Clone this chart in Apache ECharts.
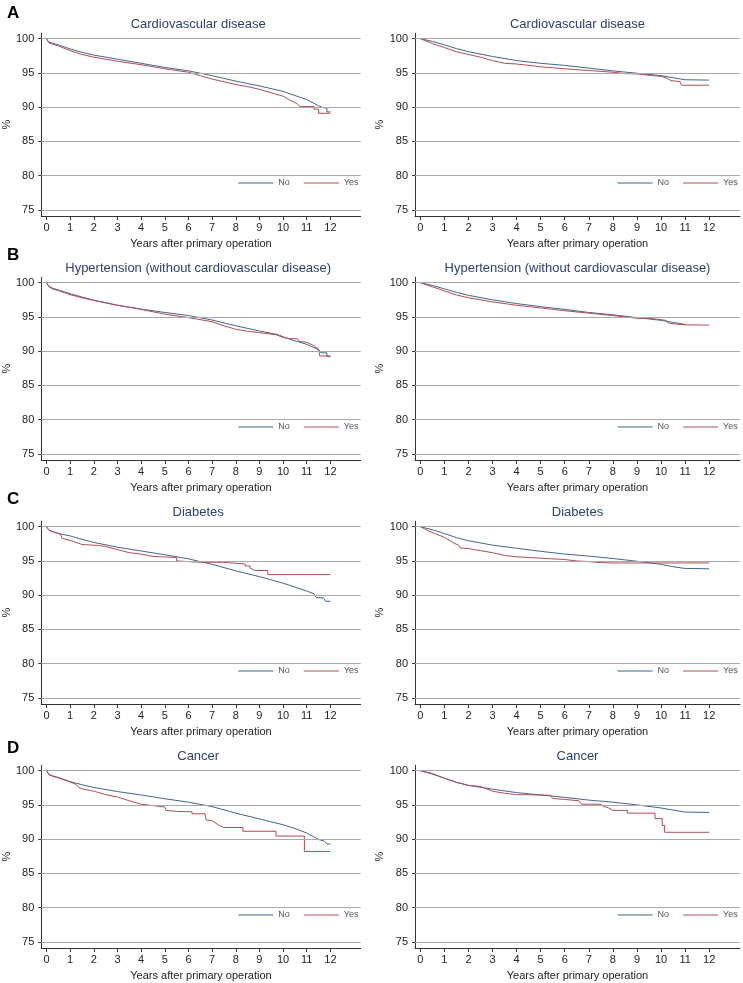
<!DOCTYPE html>
<html><head><meta charset="utf-8">
<script src="https://cdn.jsdelivr.net/npm/echarts@6/dist/echarts.min.js"></script>
<style>html,body{margin:0;padding:0;background:#fff}#c{width:743px;height:983px}</style>
</head><body><div id="c"></div><script>
// ---- labels / ticks ----
const panelLetters = ['A', 'B', 'C', 'D'];
const panelTitles = ['Cardiovascular disease', 'Hypertension (without cardiovascular disease)', 'Diabetes', 'Cancer'];
const groupNames = ['No', 'Yes'];
const xTicks = [0, 1, 2, 3, 4, 5, 6, 7, 8, 9, 10, 11, 12];
const yTicks = [75, 80, 85, 90, 95, 100];
const xAxisTitle = 'Years after primary operation';
const yAxisTitle = '%';

// ---- series: [years, % event-free] ----
// A: Cardiovascular disease
const cvdLeftNo = [[0,100],[0.1,99.5],[0.25,99.35],[0.5,99.1],[1,98.5],[1.5,98.0],[2,97.6],[3,97.0],[4,96.4],[5,95.8],[6,95.3],[7,94.6],[8,93.8],[9,93.1],[10,92.3],[10.5,91.7],[11,91.1],[11.5,90.2],[11.7,89.9],[11.85,89.9],[11.85,89.3],[12,89.3]];
const cvdLeftYes = [[0,100],[0.1,99.4],[0.25,99.2],[0.5,98.95],[1,98.25],[1.5,97.7],[2,97.3],[3,96.7],[4,96.2],[5,95.6],[6,95.1],[6.5,94.6],[7,94.1],[7.5,93.7],[8,93.3],[8.5,93.0],[9,92.6],[9.5,92.1],[10,91.6],[10.3,91.0],[10.6,90.5],[10.7,90.1],[11.3,90.1],[11.3,89.7],[11.5,89.7],[11.5,89.1],[12,89.1]];
const cvdRightNo = [[0,100],[0.5,99.6],[1,99.1],[1.5,98.55],[2,98.1],[3,97.4],[4,96.8],[5,96.4],[6,96.1],[7,95.7],[8,95.3],[9,94.95],[10,94.6],[10.5,94.3],[11,94.0],[12,93.95]];
const cvdRightYes = [[0,100],[0.5,99.3],[1,98.7],[1.5,98.1],[2,97.7],[2.5,97.3],[3,96.8],[3.5,96.4],[4,96.3],[5,95.9],[6,95.6],[7,95.35],[8,95.1],[8.5,94.9],[9,94.85],[9.5,94.65],[10,94.5],[10.2,94.3],[10.4,93.9],[10.8,93.7],[10.85,93.2],[12,93.2]];
// B: Hypertension
const htnLeftNo = [[0,100],[0.1,99.5],[0.25,99.2],[0.5,98.95],[1,98.4],[1.5,97.9],[2,97.45],[3,96.7],[4,96.15],[5,95.65],[6,95.2],[7,94.55],[8,93.7],[9,92.95],[9.8,92.4],[10,92.1],[10.5,91.5],[11,91.0],[11.5,90.2],[11.6,89.75],[11.85,89.75],[11.85,89.2],[12,89.2]];
const htnLeftYes = [[0,100],[0.1,99.4],[0.25,99.1],[0.5,98.85],[1,98.25],[1.5,97.8],[2,97.4],[3,96.7],[4,96.1],[5,95.4],[6,94.9],[7,94.3],[7.5,93.7],[8,93.2],[8.5,92.9],[9,92.7],[9.7,92.4],[10,92.0],[10.2,91.85],[10.6,91.8],[10.7,91.4],[11,91.3],[11.3,90.8],[11.5,90.3],[11.55,89.3],[12,89.3]];
const htnRightNo = [[0,100],[0.5,99.6],[1,99.1],[1.5,98.6],[2,98.15],[3,97.5],[4,96.95],[5,96.5],[6,96.1],[7,95.65],[8,95.3],[9,94.9],[10,94.5],[10.5,94.2],[11,93.9]];
const htnRightYes = [[0,100],[0.5,99.4],[1,98.8],[1.5,98.2],[2,97.8],[3,97.2],[4,96.7],[5,96.3],[6,95.9],[7,95.55],[8,95.2],[8.5,95.0],[9,94.8],[9.5,94.8],[10,94.6],[10.2,94.5],[10.3,94.1],[10.5,94.0],[11,93.85],[12,93.8]];
// C: Diabetes
const dmLeftNo = [[0,100],[0.1,99.5],[0.25,99.3],[0.5,99.0],[1,98.65],[1.5,98.15],[2,97.7],[3,97.0],[4,96.45],[5,95.9],[6,95.3],[7,94.5],[8,93.55],[9,92.7],[10,91.75],[11,90.6],[11.3,90.2],[11.4,89.65],[11.7,89.6],[11.8,89.1],[12,89.1]];
const dmLeftYes = [[0,100],[0.1,99.5],[0.3,99.2],[0.6,98.9],[0.65,98.3],[1,98.0],[1.5,97.4],[2.2,97.25],[2.5,97.1],[3,96.65],[3.5,96.2],[4,96.0],[4.5,95.65],[5.5,95.5],[5.5,95.0],[6,94.9],[6.5,94.8],[7.45,94.8],[7.45,94.55],[8.4,94.55],[8.4,94.25],[8.6,94.25],[8.6,93.95],[8.8,93.6],[9.35,93.6],[9.35,93.0],[12,93.0]];
const dmRightNo = [[0,100],[0.5,99.55],[1,99.0],[1.5,98.4],[2,97.95],[3,97.3],[4,96.85],[5,96.4],[6,96.0],[7,95.7],[8,95.35],[9,94.95],[10,94.5],[10.5,94.15],[11,93.9],[12,93.85]];
const dmRightYes = [[0,100],[0.3,99.45],[0.6,99.0],[1,98.45],[1.3,97.8],[1.6,97.25],[1.65,96.9],[2,96.8],[2.5,96.5],[3,96.2],[3.5,95.8],[4,95.6],[4.5,95.5],[5,95.4],[6,95.2],[6.5,95.0],[7,94.9],[7.5,94.75],[8,94.7],[12,94.7]];
// D: Cancer
const caLeftNo = [[0,100],[0.1,99.5],[0.25,99.25],[0.5,99.0],[1,98.4],[1.5,97.95],[2,97.55],[3,96.95],[4,96.45],[5,95.9],[6,95.4],[7,94.75],[8,93.8],[9,92.95],[10,92.1],[10.5,91.55],[11,90.9],[11.5,89.95],[11.75,89.7],[11.85,89.3],[12,89.3]];
const caLeftYes = [[0,100],[0.1,99.4],[0.25,99.2],[0.5,98.95],[1,98.35],[1.25,98.0],[1.35,97.55],[1.5,97.35],[2,97.0],[2.5,96.5],[3,96.15],[3.5,95.6],[4,95.1],[4.5,94.9],[5,94.7],[5.05,94.2],[5.5,94.05],[6.15,94.0],[6.15,93.7],[6.7,93.7],[6.75,92.8],[7.0,92.7],[7.3,92.0],[7.5,91.7],[8.3,91.7],[8.3,91.15],[9.7,91.15],[9.7,90.45],[10.9,90.45],[10.9,88.2],[12,88.2]];
const caRightNo = [[0,100],[0.5,99.5],[1,98.9],[1.5,98.3],[2,97.85],[3,97.3],[4,96.8],[5,96.45],[6,96.1],[7,95.7],[8,95.4],[9,95.0],[10,94.55],[10.5,94.25],[11,93.95],[12,93.9]];
const caRightYes = [[0,100],[0.5,99.6],[1,98.9],[1.5,98.3],[2,97.85],[2.5,97.7],[3,97.0],[3.5,96.7],[4,96.5],[5,96.45],[5.4,96.4],[5.5,95.95],[6,95.8],[6.6,95.6],[6.7,95.1],[7.5,95.1],[7.6,94.8],[7.8,94.6],[8,94.2],[8.6,94.2],[8.6,93.8],[9.75,93.8],[9.75,93.0],[10.05,93.0],[10.05,92.0],[10.15,92.0],[10.15,91.0],[12,91.0]];

const panelSeries = [
  [[cvdLeftNo, cvdLeftYes], [cvdRightNo, cvdRightYes]],
  [[htnLeftNo, htnLeftYes], [htnRightNo, htnRightYes]],
  [[dmLeftNo, dmLeftYes], [dmRightNo, dmRightYes]],
  [[caLeftNo, caLeftYes], [caRightNo, caRightYes]]
];

// ---- layout ----
const colLeft = [35.7, 415];
const gridW = 325;
const rowOff = [0, 244, 488, 732];
const letterTop = [5, 246.5, 491, 740];
const COLORS = ['#41648f', '#b44c53'];
const FONT = 'Liberation Sans, Arial, sans-serif';

const grids = [], xAxes = [], yAxes = [], series = [], titles = [], legends = [];
let idx = 0;
for (let r = 0; r < 4; r++) {
  titles.push({ text: panelLetters[r], left: 7, top: letterTop[r], padding: 0,
    textStyle: { fontFamily: FONT, fontSize: 17, fontWeight: 'bold', color: '#000' } });
  for (let c = 0; c < 2; c++) {
    const off = rowOff[r];
    grids.push({ left: colLeft[c], top: off + 33.2, width: gridW, height: 182.8, containLabel: false });
    titles.push({ text: panelTitles[r], left: colLeft[c] + gridW / 2, top: off + 17.5, textAlign: 'center', padding: 0,
      textStyle: { fontFamily: FONT, fontSize: 13, fontWeight: 'normal', color: '#2b416e' } });
    xAxes.push({ type: 'value', gridIndex: idx, min: -0.22, max: 13.28,
      name: xAxisTitle, nameLocation: 'middle', nameGap: 22,
      nameTextStyle: { fontFamily: FONT, fontSize: 11, color: '#222' },
      axisLine: { show: true, onZero: false, lineStyle: { color: '#333', width: 1 } },
      axisTick: { show: true, length: 4, customValues: xTicks, lineStyle: { color: '#333' } },
      axisLabel: { customValues: xTicks, margin: 6, fontFamily: FONT, fontSize: 11, color: '#222' },
      splitLine: { show: false } });
    yAxes.push({ type: 'value', gridIndex: idx, min: 74.1, max: 100.8,
      name: yAxisTitle, nameLocation: 'middle', nameGap: 26,
      nameTextStyle: { fontFamily: FONT, fontSize: 11, color: '#222' },
      axisLine: { show: true, onZero: false, lineStyle: { color: '#333', width: 1 } },
      axisTick: { show: true, length: 3, customValues: yTicks, lineStyle: { color: '#333' } },
      axisLabel: { customValues: yTicks, margin: 7, fontFamily: FONT, fontSize: 11, color: '#222' },
      splitLine: { show: false } });
    // gridlines
    series.push({ type: 'line', name: 'grid' + idx, xAxisIndex: idx, yAxisIndex: idx, data: [[0, 100]],
      symbol: 'none', lineStyle: { opacity: 0 }, silent: true, z: 1, animation: false,
      markLine: { silent: true, symbol: ['none', 'none'], label: { show: false }, animation: false,
        lineStyle: { color: '#a9a9a9', width: 1, type: 'solid' },
        data: yTicks.map(v => ({ yAxis: v })) } });
    const pair = panelSeries[r][c];
    for (let g = 0; g < 2; g++) {
      series.push({ type: 'line', name: groupNames[g], xAxisIndex: idx, yAxisIndex: idx,
        data: pair[g], symbol: 'none', showSymbol: false, z: 3, animation: false,
        lineStyle: { color: COLORS[g], width: 1 }, itemStyle: { color: COLORS[g] } });
    }
    legends.push({ data: groupNames.map(n => ({ name: n, icon: 'rect' })), left: colLeft[c] + 202.6, top: off + 178.5, padding: 0,
      itemWidth: 35, itemHeight: 1.2, itemGap: 14, selectedMode: false,
      textStyle: { fontFamily: FONT, fontSize: 9, color: '#555' } });
    idx++;
  }
}

const chart = echarts.init(document.getElementById('c'), null, { renderer: 'canvas' });
chart.setOption({
  backgroundColor: '#fff',
  animation: false,
  textStyle: { fontFamily: FONT },
  title: titles, legend: legends, grid: grids, xAxis: xAxes, yAxis: yAxes, series: series
});
</script></body></html>
